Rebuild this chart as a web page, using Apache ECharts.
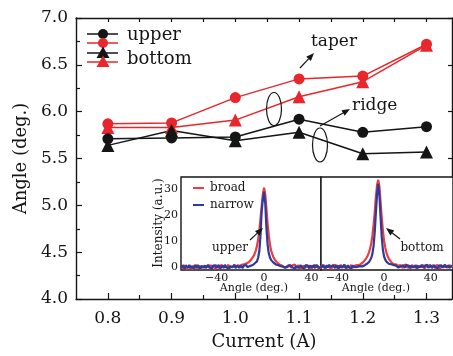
<!DOCTYPE html>
<html>
<head>
<meta charset="utf-8">
<script src="https://cdn.jsdelivr.net/npm/echarts@6/dist/echarts.min.js"></script>
<style>
  html, body { margin: 0; padding: 0; background: #fff; }
  #chart { width: 453px; height: 356px; }
</style>
</head>
<body>
<div id="chart"></div>
<script>
// main plot: divergence angle vs current
const currents = [0.8, 0.9, 1.0, 1.1, 1.2, 1.3];
const ridgeUpper = [5.71, 5.72, 5.73, 5.92, 5.78, 5.84];
const ridgeBottom = [5.64, 5.80, 5.69, 5.78, 5.55, 5.57];
const taperUpper = [5.87, 5.88, 6.15, 6.35, 6.38, 6.72];
const taperBottom = [5.83, 5.83, 5.91, 6.16, 6.32, 6.71];
const xMajorTicks = [0.8, 0.9, 1.0, 1.1, 1.2, 1.3];
const xMinorTicks = [0.85, 0.95, 1.05, 1.15, 1.25];

// inset: far-field profiles, 1 deg steps
const upperStart = -70;
const upperBroad = [
  0.3,-0.6,0.8,-0.2,0.5,-0.9,0.1,0.7,-0.4,0.2,
  -0.8,0.6,0.0,-0.5,0.9,-0.3,0.4,-0.7,0.2,0.6,
  -0.2,-0.9,0.5,0.1,-0.4,0.8,-0.6,0.3,0.0,-0.8,
  0.7,-0.1,0.4,-0.6,0.9,0.2,-0.5,0.6,-0.3,0.1,
  0.8,-0.7,0.3,0.5,-0.2,0.9,0.0,-0.4,0.7,0.3,
  -0.3,0.8,0.4,1.0,
  0.8,1.3,1.2,1.8,2.2,2.7,3.3,4.0,5.0,6.2,8.0,10.5,14,18.5,23.5,28,30.5,
  28,22.5,16.5,12,8.5,6.2,4.8,3.7,2.8,2.3,1.6,1.4,0.9,1.1,0.5,0.7,
  -0.2,0.5,0.1,-0.6,0.8,0.3,-0.4,0.6,-0.1,0.9,
  -0.5,0.2,0.7,-0.3,0.4,-0.8,0.5,0.1,-0.4,0.8,
  -0.2,0.6,0.0,-0.7,0.5,0.3,-0.5,0.9,-0.1,0.4,
  -0.6,0.2
];
const upperNarrow = [
  -0.4,0.5,0.1,-0.7,0.6,0.2,-0.3,0.8,-0.5,0.3,
  0.0,-0.6,0.7,0.2,-0.4,0.5,-0.8,0.4,0.1,-0.3,
  0.6,-0.5,0.2,0.8,-0.2,0.3,-0.7,0.5,0.0,0.6,
  -0.4,0.2,0.7,-0.6,0.1,0.5,-0.3,0.8,-0.1,0.4,
  -0.7,0.3,0.6,-0.2,0.0,0.7,-0.5,0.4,0.2,-0.3,
  0.6,0.1,-0.4,0.5,
  0.2,0.7,-0.1,0.5,0.3,0.8,0.6,1.0,1.3,1.6,2.1,3.5,6,12,21.5,26,29,
  24.5,15,8.5,5.2,3.6,2.6,2.0,1.6,1.3,0.9,1.1,0.6,0.8,0.3,0.5,0.1,
  0.6,-0.3,0.4,0.1,-0.6,0.7,0.2,-0.2,0.5,-0.7,
  0.3,0.8,-0.4,0.1,0.6,-0.2,0.4,-0.5,0.7,0.0,
  0.3,-0.6,0.5,0.2,-0.3,0.8,-0.1,0.4,0.6,-0.5,
  0.2,0.1
];
const bottomStart = -54;
const bottomBroad = [
  0.5,-0.3,0.8,0.1,-0.6,0.4,0.9,-0.2,0.3,-0.7,
  0.6,0.0,0.8,-0.4,0.2,0.5,-0.5,0.7,0.1,-0.3,
  0.9,0.3,-0.6,0.4,0.6,-0.1,0.8,-0.4,0.2,0.5,
  -0.2,0.7,0.3,
  0.8,1.1,1.4,1.8,2.3,2.9,3.5,4.4,5.5,7.0,9.0,12,16,21,27,31.5,33.5,
  31,25,19,14,10,7.5,5.5,4.2,3.2,2.5,1.9,1.5,1.1,0.9,1.0,0.6,
  0.4,-0.3,0.7,0.1,-0.5,0.6,0.2,0.9,-0.4,0.3,
  0.5,-0.6,0.8,0.0,0.4,-0.2,0.7,-0.5,0.3,0.6,
  -0.1,0.8,0.2,-0.6,0.5,0.3,-0.3,0.9,0.1,-0.4,
  0.6,0.2,-0.5,0.7,0.0,0.4,-0.7,0.5,0.8,-0.2,
  0.3,0.6,-0.4,0.2,0.7,-0.1,0.4
];
const bottomNarrow = [
  -0.3,0.4,0.7,-0.5,0.2,0.6,-0.2,0.8,0.0,-0.6,
  0.5,0.3,-0.4,0.7,0.1,-0.7,0.6,0.2,-0.3,0.4,
  0.8,-0.5,0.1,0.6,-0.2,0.3,-0.6,0.5,0.7,-0.1,
  0.4,0.0,0.6,
  0.3,0.6,0.2,0.7,0.5,0.9,1.1,1.4,1.8,2.4,3.4,5,8,13.5,21,28,32,
  27.5,19,11.5,6.5,4,2.8,2.0,1.5,1.2,0.8,1.0,0.5,0.7,0.3,0.6,0.2,
  -0.2,0.5,0.1,-0.6,0.6,0.3,-0.3,0.7,0.0,0.5,
  -0.5,0.4,0.8,-0.2,0.1,0.6,-0.6,0.3,0.5,-0.1,
  0.7,0.2,-0.4,0.5,0.0,0.8,-0.3,0.4,0.6,-0.5,
  0.2,0.7,-0.1,0.3,-0.6,0.5,0.1,0.6,-0.3,0.4,
  0.8,-0.2,0.3,0.5,-0.4,0.2,0.6
];
const insetXTicks = [-40, 0, 40];
const insetYTicks = [0, 10, 20, 30];

const RED = "#e8262c";
const BLACK = "#151515";
const IRED = "#ef3a3f";
const IBLUE = "#2c3b9c";
const SERIF = "DejaVu Serif";

const pairs = (xs, ys) => xs.map((x, i) => [x, ys[i]]);
const profile = (start, ys) => ys.map((y, i) => [start + i, y]);

function arrow(x1, y1, x2, y2) {
  const a = Math.atan2(y2 - y1, x2 - x1);
  const L = 8, W = 3.2;
  const bx = x2 - L * Math.cos(a), by = y2 - L * Math.sin(a);
  return [
    { type: "line", z: 100, shape: { x1, y1, x2: bx, y2: by }, style: { stroke: BLACK, lineWidth: 1.2 } },
    { type: "polygon", z: 100, shape: { points: [[x2, y2], [bx + W * Math.sin(a), by - W * Math.cos(a)], [bx - W * Math.sin(a), by + W * Math.cos(a)]] }, style: { fill: BLACK } },
  ];
}

function legendRow(y, color, sym) {
  const els = [{ type: "line", z: 100, shape: { x1: 87, y1: y, x2: 118, y2: y }, style: { stroke: color, lineWidth: 1.5 } }];
  if (sym === "circle") {
    els.push({ type: "circle", z: 100, shape: { cx: 103, cy: y, r: 5 }, style: { fill: color } });
  } else {
    els.push({ type: "polygon", z: 100, shape: { points: [[103, y - 6.5], [96.5, y + 5], [109.5, y + 5]] }, style: { fill: color } });
  }
  return els;
}

const txt = (x, y, s, size, extra, rot) => ({
  type: "text", z: 100, x, y, rotation: rot || 0,
  style: Object.assign({ text: s, font: size + "px '" + SERIF + "'", fill: BLACK, verticalAlign: "middle" }, extra || {}),
});

const chart = echarts.init(document.getElementById("chart"));

const mainSeries = (name, data, color, symbol, size) => ({
  name, type: "line", xAxisIndex: 0, yAxisIndex: 0,
  data: pairs(currents, data),
  symbol, symbolSize: size,
  lineStyle: { color, width: 1.5 },
  itemStyle: { color },
});

const insetLine = (data, color, xi, yi) => ({
  type: "line", xAxisIndex: xi, yAxisIndex: yi, data,
  showSymbol: false, symbol: "none",
  lineStyle: { color, width: 2.2 },
  z: 20,
});

const hideAxis = { axisLabel: { show: false }, splitLine: { show: false } };
const fmtNeg = (v) => (v < 0 ? "\u2212" + Math.abs(v) : String(v));

const option = {
  animation: false,
  backgroundColor: "#fff",
  textStyle: { fontFamily: SERIF },
  grid: [
    { left: 76, right: 1, top: 18, bottom: 57, show: false },
    { left: 181, top: 177, width: 140, height: 93, show: true, backgroundColor: "#fff", borderColor: BLACK, borderWidth: 1.4, z: 5 },
    { left: 321, top: 177, width: 134, height: 93, show: true, backgroundColor: "#fff", borderColor: BLACK, borderWidth: 1.4, z: 5 },
  ],
  xAxis: [
    {
      type: "value", gridIndex: 0, min: 0.75, max: 1.34,
      name: "Current (A)", nameLocation: "middle", nameGap: 34,
      nameTextStyle: { fontSize: 18, color: BLACK, fontFamily: SERIF },
      axisLine: { lineStyle: { color: BLACK, width: 1.4 } },
      axisTick: { inside: true, length: 6, customValues: xMajorTicks, lineStyle: { color: BLACK, width: 1.2 } },
      axisLabel: { customValues: xMajorTicks, margin: 11, fontSize: 17, color: BLACK, fontFamily: SERIF, formatter: (v) => v.toFixed(1) },
      splitLine: { show: false },
    },
    Object.assign({
      type: "value", gridIndex: 0, min: 0.75, max: 1.34, position: "bottom",
      axisLine: { show: false },
      axisTick: { inside: true, length: 4, customValues: xMinorTicks, lineStyle: { color: BLACK, width: 1.2 } },
    }, hideAxis),
    Object.assign({
      type: "value", gridIndex: 0, min: 0.75, max: 1.34, position: "top",
      axisLine: { lineStyle: { color: BLACK, width: 1.4 } },
      axisTick: { inside: true, length: 4, customValues: xMajorTicks.concat(xMinorTicks), lineStyle: { color: BLACK, width: 1.2 } },
    }, hideAxis),
    {
      type: "value", gridIndex: 1, min: -70, max: 48,
      axisLine: { show: false },
      axisTick: { inside: true, length: 3, customValues: insetXTicks, lineStyle: { color: BLACK } },
      axisLabel: { customValues: insetXTicks, margin: 3, fontSize: 11, color: BLACK, fontFamily: SERIF, formatter: fmtNeg },
      splitLine: { show: false },
    },
    {
      type: "value", gridIndex: 2, min: -54, max: 59,
      axisLine: { show: false },
      axisTick: { inside: true, length: 3, customValues: insetXTicks, lineStyle: { color: BLACK } },
      axisLabel: { customValues: insetXTicks, margin: 3, fontSize: 11, color: BLACK, fontFamily: SERIF, formatter: fmtNeg },
      splitLine: { show: false },
    },
  ],
  yAxis: [
    {
      type: "value", gridIndex: 0, min: 4, max: 7, interval: 0.5,
      name: "Angle (deg.)", nameLocation: "middle", nameGap: 36,
      nameTextStyle: { fontSize: 18, color: BLACK, fontFamily: SERIF },
      axisLine: { show: true, lineStyle: { color: BLACK, width: 1.4 } },
      axisTick: { inside: true, length: 6, lineStyle: { color: BLACK, width: 1.2 } },
      minorTick: { show: true, splitNumber: 2, length: 4, lineStyle: { color: BLACK, width: 1.2 } },
      axisLabel: { margin: 8, fontSize: 17, color: BLACK, fontFamily: SERIF, formatter: (v) => v.toFixed(1) },
      splitLine: { show: false },
    },
    Object.assign({
      type: "value", gridIndex: 0, min: 4, max: 7, interval: 0.5, position: "right",
      axisLine: { show: true, lineStyle: { color: BLACK, width: 1.4 } },
      axisTick: { inside: true, length: 4, lineStyle: { color: BLACK, width: 1.2 } },
    }, hideAxis),
    {
      type: "value", gridIndex: 1, min: -1.2, max: 34.6,
      axisLine: { show: false },
      axisTick: { inside: true, length: 3, customValues: insetYTicks, lineStyle: { color: BLACK } },
      axisLabel: { customValues: insetYTicks, margin: 3, fontSize: 11, color: BLACK, fontFamily: SERIF },
      splitLine: { show: false },
    },
    Object.assign({
      type: "value", gridIndex: 2, min: -1.2, max: 34.6,
      axisLine: { show: false },
      axisTick: { inside: true, length: 3, customValues: insetYTicks, lineStyle: { color: BLACK } },
    }, hideAxis),
  ],
  series: [
    mainSeries("taper upper", taperUpper, RED, "circle", 11),
    mainSeries("taper bottom", taperBottom, RED, "triangle", 13),
    mainSeries("ridge upper", ridgeUpper, BLACK, "circle", 11),
    mainSeries("ridge bottom", ridgeBottom, BLACK, "triangle", 13),
    insetLine(profile(upperStart, upperBroad), IRED, 3, 2),
    insetLine(profile(upperStart, upperNarrow), IBLUE, 3, 2),
    insetLine(profile(bottomStart, bottomBroad), IRED, 4, 3),
    insetLine(profile(bottomStart, bottomNarrow), IBLUE, 4, 3),
  ],
  graphic: [
    ...legendRow(34, BLACK, "circle"),
    ...legendRow(43, RED, "circle"),
    ...legendRow(53, BLACK, "triangle"),
    ...legendRow(62, RED, "triangle"),
    txt(127, 35, "upper", 18),
    txt(127, 59, "bottom", 18),
    txt(311, 42, "taper", 17),
    txt(352, 106, "ridge", 17),
    ...arrow(300, 68, 314, 53),
    ...arrow(320, 126, 350, 109),
    { type: "ellipse", z: 100, shape: { cx: 274, cy: 109, rx: 7.5, ry: 16.5 }, style: { fill: "none", stroke: BLACK, lineWidth: 1.2 } },
    { type: "ellipse", z: 100, shape: { cx: 320, cy: 145, rx: 7.5, ry: 17 }, style: { fill: "none", stroke: BLACK, lineWidth: 1.2 } },
    // inset legend and labels
    { type: "line", z: 100, shape: { x1: 193, y1: 188, x2: 204, y2: 188 }, style: { stroke: IRED, lineWidth: 2 } },
    { type: "line", z: 100, shape: { x1: 193, y1: 205, x2: 204, y2: 205 }, style: { stroke: IBLUE, lineWidth: 2 } },
    txt(210, 188, "broad", 12),
    txt(210, 205, "narrow", 12),
    txt(230, 248, "upper", 12, { align: "center" }),
    txt(422, 248, "bottom", 12, { align: "center" }),
    ...arrow(250, 240, 263, 228),
    ...arrow(400, 239, 386, 228),
    txt(254, 288, "Angle (deg.)", 11, { align: "center" }),
    txt(376, 288, "Angle (deg.)", 11, { align: "center" }),
    txt(159, 223, "Intensity (a.u.)", 12, { align: "center" }, Math.PI / 2),
  ],
};

chart.setOption(option);
</script>
</body>
</html>
